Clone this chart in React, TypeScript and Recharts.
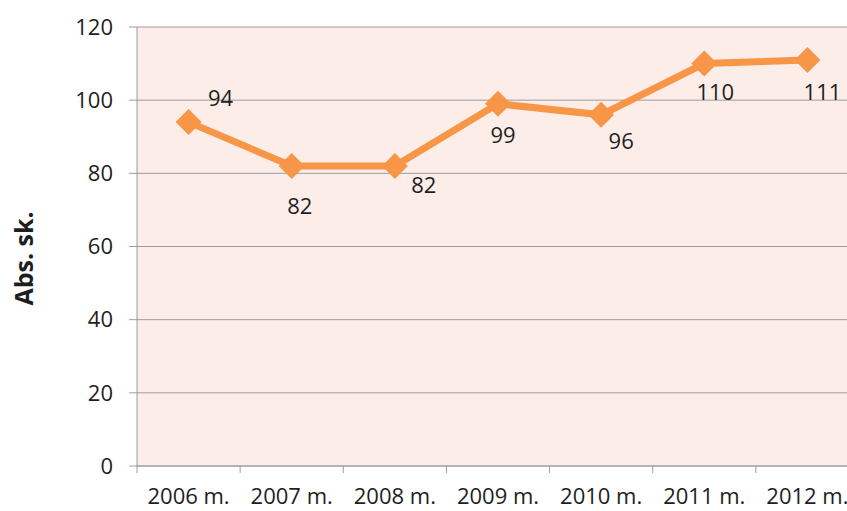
import { ComposedChart, Line, XAxis, YAxis, CartesianGrid, LabelList } from 'recharts';

const years = ['2006 m.', '2007 m.', '2008 m.', '2009 m.', '2010 m.', '2011 m.', '2012 m.'];
const counts = [94, 82, 82, 99, 96, 110, 111];
const yTicks = [0, 20, 40, 60, 80, 100, 120];

// Excel put the value labels in slightly different spots for each point
const labelNudge: Array<[number, number]> = [[32, -25], [8, 39], [29, 18], [5, 30], [20, 25], [11, 27], [15, 31]];

const data = years.map((year, i) => ({ year, count: counts[i] }));

const FONT = '"Open Sans", "Noto Sans", sans-serif';
const INK = '#1e1e1e';
const AXIS = '#9d9d9d';
const ORANGE = '#f79646';

function Diamond({ cx, cy }: any) {
  if (cx == null || cy == null) return null;
  const r = 13;
  return <polygon points={`${cx},${cy - r} ${cx + r},${cy} ${cx},${cy + r} ${cx - r},${cy}`} fill={ORANGE} />;
}

function YearTick({ x, y, payload, index }: any) {
  const half = payload?.offset ?? 0;
  return (
    <g>
      <line x1={x - half} x2={x - half} y1={y} y2={y + 7} stroke={AXIS} />
      {index === years.length - 1 && <line x1={x + half} x2={x + half} y1={y} y2={y + 7} stroke={AXIS} />}
      <text x={x} y={y + 38} textAnchor="middle" fontSize={22} fontFamily={FONT} fill={INK}>
        {payload.value}
      </text>
    </g>
  );
}

function ValueLabel({ x, y, value, index }: any) {
  const [dx, dy] = labelNudge[index] ?? [0, -20];
  return (
    <text x={x + dx} y={y + dy} textAnchor="middle" dominantBaseline="central" fontSize={22} fontFamily={FONT} fill={INK}>
      {value}
    </text>
  );
}

function AxisTitle({ viewBox }: any) {
  const cy = viewBox ? viewBox.y + viewBox.height / 2 + 12 : 258;
  return (
    <text transform={`translate(23,${cy}) rotate(-90)`} textAnchor="middle" dominantBaseline="central" fontSize={25} fontWeight="bold" fontFamily={FONT} fill={INK}>
      Abs. sk.
    </text>
  );
}

export default function App() {
  return (
    <div style={{ position: 'absolute', left: 0, top: 0, width: 847, height: 511, overflow: 'hidden', background: '#fff' }}>
      <ComposedChart width={870} height={511} data={data} margin={{ top: 27, right: 11, bottom: 0, left: 0 }}>
        <CartesianGrid vertical={false} stroke={AXIS} fill="#fcede9" fillOpacity={1} />
        <XAxis dataKey="year" scale="band" height={45} tickLine={false} tickSize={0} tickMargin={0} stroke={AXIS} tick={<YearTick />} interval={0} />
        <YAxis
          domain={[0, 120]}
          ticks={yTicks}
          width={137}
          stroke={AXIS}
          tickSize={8}
          tickMargin={16}
          tick={{ fontSize: 22, fontFamily: FONT, fill: INK }}
          label={<AxisTitle />}
        />
        <Line dataKey="count" stroke={ORANGE} strokeWidth={7} dot={<Diamond />} activeDot={false} isAnimationActive={false}>
          <LabelList dataKey="count" content={<ValueLabel />} />
        </Line>
      </ComposedChart>
    </div>
  );
}
